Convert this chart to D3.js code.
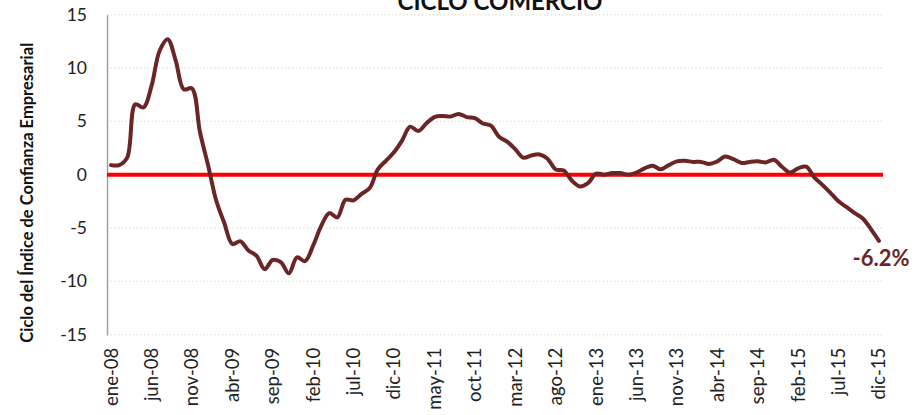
<!DOCTYPE html>
<html>
<head>
<meta charset="utf-8">
<script src="https://cdn.jsdelivr.net/npm/d3@7/dist/d3.min.js"></script>
<style>
  html, body { margin: 0; padding: 0; background: #fff; }
  svg { display: block; font-family: Lato, "Open Sans", sans-serif; }
</style>
</head>
<body>
<svg id="chart" width="921" height="415"></svg>
<script>
// Monthly business-confidence cycle, commerce sector (ene-08 .. dic-15)
const monthNames = ["ene","feb","mar","abr","may","jun","jul","ago","sep","oct","nov","dic"];
const years = [8, 9, 10, 11, 12, 13, 14, 15];
const months = years.flatMap(y => monthNames.map(m => `${m}-${String(y).padStart(2, "0")}`));

const cycleValues = [
  0.9, 0.9, 1.6, 6.6, 6.3, 8.3, 11.6, 12.7, 10.7, 8.0, 8.1, 4.0,
  0.9, -2.4, -4.5, -6.5, -6.25, -7.1, -7.6, -8.85, -8.0, -8.2, -9.25, -7.75,
  -8.1, -6.65, -4.8, -3.6, -4.0, -2.35, -2.4, -1.8, -1.25, 0.5, 1.3, 2.1,
  3.2, 4.5, 4.1, 4.8, 5.4, 5.5, 5.45, 5.7, 5.4, 5.3, 4.8, 4.6,
  3.55, 3.1, 2.4, 1.6, 1.8, 1.9, 1.5, 0.5, 0.4, -0.55, -1.1, -0.8,
  0.1, 0.0, 0.15, 0.15, 0.0, 0.2, 0.6, 0.85, 0.5, 0.9, 1.25, 1.3,
  1.2, 1.2, 1.0, 1.25, 1.7, 1.45, 1.1, 1.2, 1.25, 1.15, 1.4, 0.75,
  0.2, 0.6, 0.75, -0.25, -0.95, -1.7, -2.5, -3.05, -3.6, -4.1, -5.1, -6.2
];

const yTicks = [-15, -10, -5, 0, 5, 10, 15];
const xTickLabels = months.filter((d, i) => i % 5 === 0);
const chartTitle = "CICLO COMERCIO";
const yTitle = "Ciclo del Índice de Confianza Empresarial";
const lastLabel = "-6.2%";

const svg = d3.select("#chart");
const plot = { left: 107, right: 883, top: 14.7, bottom: 334.7 };
const font = "Lato, 'Open Sans', sans-serif";

const x = d3.scaleBand().domain(months).range([plot.left, plot.right]).padding(0);
const xc = d => x(d) + x.bandwidth() / 2;
const y = d3.scaleLinear().domain([-15, 15]).range([plot.bottom, plot.top]);

// dotted horizontal gridlines
svg.append("g")
  .selectAll("line")
  .data(yTicks)
  .join("line")
  .attr("x1", plot.left).attr("x2", plot.right)
  .attr("y1", d => y(d)).attr("y2", d => y(d))
  .attr("stroke", "#e6e6d6")
  .attr("stroke-width", 1.5)
  .attr("stroke-dasharray", "1.5 2.2");

// y axis (plain hyphen for negatives)
const yAxis = svg.append("g")
  .attr("transform", `translate(${plot.left},0)`)
  .call(d3.axisLeft(y).tickValues(yTicks).tickSize(0).tickPadding(20).tickFormat(d => String(d)));
yAxis.select(".domain").attr("stroke", "#a0a0a0").attr("stroke-width", 1.5);
yAxis.selectAll("text")
  .attr("font-size", 17.5)
  .attr("fill", "#222")
  .attr("font-family", font);

// x axis with rotated month labels
const xAxis = svg.append("g")
  .attr("transform", `translate(0,${plot.bottom})`)
  .call(d3.axisBottom(x).tickValues(xTickLabels).tickSize(0).tickPadding(0));
xAxis.select(".domain").remove();
xAxis.selectAll("text")
  .attr("font-size", 18.5)
  .attr("fill", "#222")
  .attr("font-family", font)
  .attr("text-anchor", "end")
  .attr("dy", "0.35em")
  .attr("transform", "translate(0,13) rotate(-90)")
  .attr("x", 0).attr("y", 0);

// zero reference line
svg.append("line")
  .attr("x1", plot.left).attr("x2", plot.right)
  .attr("y1", y(0)).attr("y2", y(0))
  .attr("stroke", "#ff0000")
  .attr("stroke-width", 4);

// cycle line
const line = d3.line()
  .x((d, i) => xc(months[i]))
  .y(d => y(d))
  .curve(d3.curveCatmullRom.alpha(0.5));

svg.append("path")
  .datum(cycleValues)
  .attr("d", line)
  .attr("fill", "none")
  .attr("stroke", "#6b2525")
  .attr("stroke-width", 4)
  .attr("stroke-linejoin", "round")
  .attr("stroke-linecap", "round");

// value label on last point
const lastIdx = cycleValues.length - 1;
svg.append("text")
  .attr("x", xc(months[lastIdx]) + 2)
  .attr("y", y(cycleValues[lastIdx]) + 25)
  .attr("text-anchor", "middle")
  .attr("font-size", 22)
  .attr("font-weight", "bold")
  .attr("fill", "#6b2525")
  .attr("font-family", font)
  .text(lastLabel);

// chart title, partly above the top edge of the frame
svg.append("text")
  .attr("x", 500)
  .attr("y", 10)
  .attr("text-anchor", "middle")
  .attr("font-size", 24)
  .attr("font-weight", "bold")
  .attr("fill", "#111")
  .attr("font-family", font)
  .text(chartTitle);

// y-axis title
svg.append("text")
  .attr("transform", `translate(33,${(plot.top + plot.bottom) / 2 + 18}) rotate(-90)`)
  .attr("text-anchor", "middle")
  .attr("font-size", 16.5)
  .attr("font-weight", "bold")
  .attr("fill", "#111")
  .attr("font-family", font)
  .text(yTitle);
</script>
</body>
</html>
